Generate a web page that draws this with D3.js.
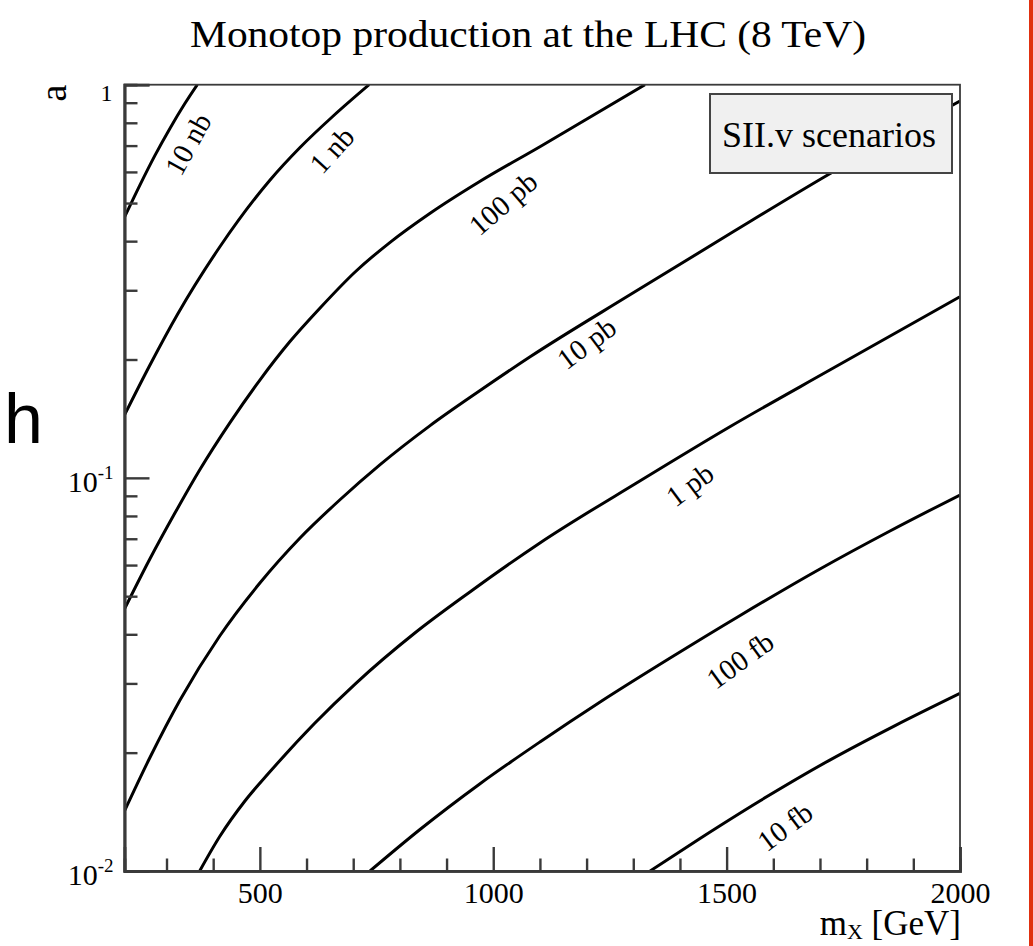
<!DOCTYPE html>
<html>
<head>
<meta charset="utf-8">
<script src="https://cdn.jsdelivr.net/npm/d3@7"></script>
<style>
  html, body { margin: 0; padding: 0; background: #fff; }
  svg { display: block; }
</style>
</head>
<body>
<svg id="chart" width="1033" height="946"></svg>
<script>
// ---- chart text ----
const titleText = "Monotop production at the LHC (8 TeV)";
const legendText = "SII.v scenarios";
const yTitle = "a";
const xTitleMain = "m";
const xTitleSub = "X";
const xTitleUnit = " [GeV]";

// ---- axes ----
const massRange = [210, 2000];          // m_X in GeV
const couplingRange = [0.01, 1];        // coupling a (log scale)
const massMajorTicks = [500, 1000, 1500, 2000];
const massMinorTicks = [300, 400, 600, 700, 800, 900, 1100, 1200, 1300, 1400, 1600, 1700, 1800, 1900];
const couplingMajorTicks = [0.01, 0.1, 1];
const couplingMinorTicks = [0.02, 0.03, 0.04, 0.05, 0.06, 0.07, 0.08, 0.09,
                            0.2, 0.3, 0.4, 0.5, 0.6, 0.7, 0.8, 0.9];
const couplingTickBase = ["10", "10", "1"];
const couplingTickExp = ["-2", "-1", ""];

// ---- iso-cross-section contours: [m_X (GeV), a] ----
const contourLevels = ["10 nb", "1 nb", "100 pb", "10 pb", "1 pb", "100 fb", "10 fb"];
const sigma10nb = [[210, 0.4603], [243, 0.5556], [275, 0.6602], [307, 0.7730], [339, 0.8941], [366, 1.0]];
const sigma1nb = [[210, 0.1445], [264, 0.1931], [324, 0.2611], [414, 0.3865], [521, 0.5707],
                  [586, 0.6922], [656, 0.8301], [734, 1.0]];
const sigma100pb = [[210, 0.04638], [264, 0.06206], [318, 0.08136], [371, 0.1047], [436, 0.1382],
                    [500, 0.1773], [564, 0.2218], [629, 0.2704], [704, 0.3339], [779, 0.3973],
                    [864, 0.4704], [971, 0.5673], [1100, 0.6956], [1325, 1.0]];
const sigma10pb = [[210, 0.01421], [264, 0.01938], [329, 0.02722], [414, 0.03961], [500, 0.05401],
                   [586, 0.07031], [671, 0.08784], [757, 0.1079], [864, 0.1356], [971, 0.1665],
                   [1079, 0.2032], [1293, 0.2921], [1507, 0.4176], [1721, 0.5934], [2000, 0.909]];
const sigma1pb = [[371, 0.01], [414, 0.01224], [468, 0.01507], [521, 0.01785], [618, 0.02379],
                  [704, 0.02989], [832, 0.0403], [950, 0.05126], [1100, 0.0683], [1314, 0.09817],
                  [1507, 0.1349], [1721, 0.188], [2000, 0.2889]];
const sigma100fb = [[736, 0.01], [843, 0.01275], [971, 0.01665], [1100, 0.02129], [1229, 0.02691],
                    [1379, 0.03481], [1529, 0.04466], [1700, 0.05864], [1850, 0.07325], [2000, 0.09045]];
const sigma10fb = [[1336, 0.01], [1443, 0.0121], [1571, 0.01507], [1721, 0.01915],
                   [1861, 0.02344], [2000, 0.02831]];
const contourSeries = [sigma10nb, sigma1nb, sigma100pb, sigma10pb, sigma1pb, sigma100fb, sigma10fb];

// label anchor for each contour: [m_X, a]
const labelAnchors = [[346, 0.7065], [654, 0.682], [1021, 0.4993], [1200, 0.22],
                      [1421, 0.096], [1529, 0.0344], [1625, 0.01297]];
const labelAngles = [-61, -48, -41, -37, -37, -36, -37];

// ---- layout ----
const plot = { left: 124.5, right: 960, top: 84.7, bottom: 871 };
const serif = "'Liberation Serif', 'Times New Roman', serif";
const axisColor = "#3a3a3a";

const svg = d3.select("#chart");
svg.append("rect").attr("width", 1033).attr("height", 946).attr("fill", "#fff");

const x = d3.scaleLinear().domain(massRange).range([plot.left, plot.right]);
const y = d3.scaleLog().domain(couplingRange).range([plot.bottom, plot.top]);

svg.append("defs").append("clipPath").attr("id", "plotClip")
  .append("rect")
  .attr("x", plot.left).attr("y", plot.top)
  .attr("width", plot.right - plot.left).attr("height", plot.bottom - plot.top);

// ---- contour lines ----
const line = d3.line()
  .x(d => x(d[0]))
  .y(d => y(d[1]))
  .curve(d3.curveMonotoneX);

svg.append("g").attr("clip-path", "url(#plotClip)")
  .selectAll("path")
  .data(contourSeries)
  .join("path")
  .attr("d", line)
  .attr("fill", "none")
  .attr("stroke", "#000")
  .attr("stroke-width", 3)
  .attr("stroke-linejoin", "round");

// ---- contour labels ----
svg.append("g")
  .selectAll("text")
  .data(contourLevels)
  .join("text")
  .attr("transform", (d, i) =>
    `translate(${x(labelAnchors[i][0])},${y(labelAnchors[i][1])}) rotate(${labelAngles[i]})`)
  .attr("text-anchor", "middle")
  .attr("dominant-baseline", "central")
  .attr("font-family", serif)
  .attr("font-size", 29)
  .attr("fill", "#000")
  .text(d => d);

// ---- frame (top/right thin) ----
svg.append("rect")
  .attr("x", plot.left).attr("y", plot.top)
  .attr("width", plot.right - plot.left).attr("height", plot.bottom - plot.top)
  .attr("fill", "none").attr("stroke", axisColor).attr("stroke-width", 1.8);

// ---- x axis ----
const xMajor = d3.axisBottom(x).tickValues(massMajorTicks).tickSize(-24).tickPadding(6)
  .tickFormat(d3.format("d"));
const xMinor = d3.axisBottom(x).tickValues(massMinorTicks).tickSize(-12.5).tickFormat("");

const gxMinor = svg.append("g").attr("transform", `translate(0,${plot.bottom})`).call(xMinor);
const gxMajor = svg.append("g").attr("transform", `translate(0,${plot.bottom})`).call(xMajor);
[gxMinor, gxMajor].forEach(g => {
  g.select(".domain").attr("stroke", axisColor).attr("stroke-width", 2.7);
  g.selectAll(".tick line").attr("stroke", axisColor).attr("stroke-width", 2.4);
});
gxMajor.selectAll(".tick text")
  .attr("font-family", serif).attr("font-size", 30).attr("fill", "#000")
  .attr("dy", null).attr("y", 32);

// ---- y axis ----
const yMajor = d3.axisLeft(y).tickValues(couplingMajorTicks).tickSize(-25).tickFormat("");
const yMinor = d3.axisLeft(y).tickValues(couplingMinorTicks).tickSize(-13).tickFormat("");
const gyMinor = svg.append("g").attr("transform", `translate(${plot.left},0)`).call(yMinor);
const gyMajor = svg.append("g").attr("transform", `translate(${plot.left},0)`).call(yMajor);
[gyMinor, gyMajor].forEach(g => {
  g.select(".domain").attr("stroke", axisColor).attr("stroke-width", 2.7);
  g.selectAll(".tick line").attr("stroke", axisColor).attr("stroke-width", 2.4);
});

// y tick labels with superscript exponents
const yLabels = svg.append("g");
couplingMajorTicks.forEach((v, i) => {
  const t = yLabels.append("text")
    .attr("x", plot.left - 11)
    .attr("y", y(v) + 14)
    .attr("text-anchor", "end")
    .attr("font-family", serif)
    .attr("fill", "#000");
  if (couplingTickExp[i]) {
    t.append("tspan").attr("font-size", 30).text(couplingTickBase[i]);
    t.append("tspan").attr("font-size", 19).attr("dy", -13).text(couplingTickExp[i]);
  } else {
    t.attr("font-size", 24).attr("y", y(v) + 16).attr("x", plot.left - 12)
      .text(couplingTickBase[i]);
  }
});

// ---- axis titles ----
svg.append("text")
  .attr("transform", `translate(66,${plot.top}) rotate(-90)`)
  .attr("text-anchor", "end")
  .attr("font-family", serif)
  .attr("font-size", 38)
  .attr("fill", "#000")
  .text(yTitle);

const xt = svg.append("text")
  .attr("x", plot.right + 1)
  .attr("y", 935)
  .attr("text-anchor", "end")
  .attr("font-family", serif)
  .attr("font-size", 35)
  .attr("fill", "#000");
xt.append("tspan").text(xTitleMain);
xt.append("tspan").attr("font-size", 22).attr("dy", 4).text(xTitleSub);
xt.append("tspan").attr("dy", -4).text(xTitleUnit);

// ---- title ----
svg.append("text")
  .attr("x", 528)
  .attr("y", 47)
  .attr("text-anchor", "middle")
  .attr("font-family", serif)
  .attr("font-size", 37)
  .attr("fill", "#000")
  .attr("textLength", 676)
  .attr("lengthAdjust", "spacingAndGlyphs")
  .text(titleText);

// ---- scenario box ----
const box = { x: 710, y: 94, w: 242, h: 79 };
svg.append("rect")
  .attr("x", box.x).attr("y", box.y)
  .attr("width", box.w).attr("height", box.h)
  .attr("fill", "#f0f0f0")
  .attr("stroke", "#444")
  .attr("stroke-width", 2);
svg.append("text")
  .attr("x", box.x + box.w / 2 - 2)
  .attr("y", box.y + 53)
  .attr("text-anchor", "middle")
  .attr("font-family", serif)
  .attr("font-size", 36)
  .attr("fill", "#000")
  .text(legendText);

// ---- slide fragments around the figure ----
svg.append("text")
  .attr("x", 4)
  .attr("y", 443)
  .attr("font-family", "'Liberation Sans', Arial, sans-serif")
  .attr("font-size", 70)
  .attr("fill", "#000")
  .text("h");

svg.append("rect")
  .attr("x", 1029).attr("y", 0)
  .attr("width", 4).attr("height", 946)
  .attr("fill", "#e0300f");
</script>
</body>
</html>
